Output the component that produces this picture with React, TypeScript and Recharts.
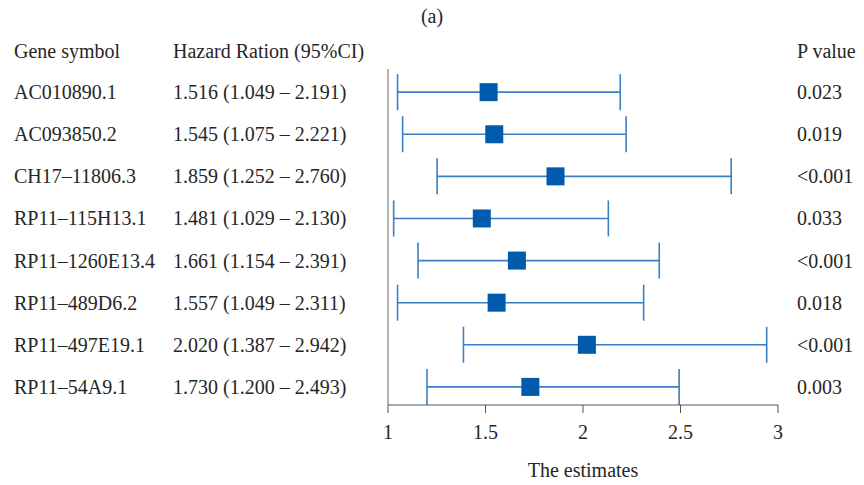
import { ScatterChart, Scatter, XAxis, YAxis, ErrorBar } from 'recharts'

const GENES = [
  'AC010890.1',
  'AC093850.2',
  'CH17–11806.3',
  'RP11–115H13.1',
  'RP11–1260E13.4',
  'RP11–489D6.2',
  'RP11–497E19.1',
  'RP11–54A9.1',
]
const HR = [1.516, 1.545, 1.859, 1.481, 1.661, 1.557, 2.02, 1.73]
const LOWER = [1.049, 1.075, 1.252, 1.029, 1.154, 1.049, 1.387, 1.2]
const UPPER = [2.191, 2.221, 2.76, 2.13, 2.391, 2.311, 2.942, 2.493]
const PVALUES = ['0.023', '0.019', '<0.001', '0.033', '<0.001', '0.018', '<0.001', '0.003']
const X_TICKS = [1, 1.5, 2, 2.5, 3]

const FONT = '"Liberation Serif", "Times New Roman", serif'
const TEXT = '#262626'
const SIZE = 20

const datos = GENES.map((g, i) => ({
  fila: i,
  hr: HR[i],
  err: [HR[i] - LOWER[i], UPPER[i] - HR[i]],
}))

const fmt = (v: number) => v.toFixed(3)

function TickFila(props: any) {
  const i = props.payload.value
  const y = props.y
  if (i < 0 || i >= GENES.length) return null
  return (
    <g fontFamily={FONT} fontSize={SIZE} fill={TEXT}>
      <text x={14} y={y} dy="0.35em">{GENES[i]}</text>
      <text x={173} y={y} dy="0.35em">
        {`${fmt(HR[i])} (${fmt(LOWER[i])} – ${fmt(UPPER[i])})`}
      </text>
      <text x={797} y={y} dy="0.35em">{PVALUES[i]}</text>
    </g>
  )
}

function Cuadro(props: any) {
  const { cx, cy } = props
  return <rect x={cx - 9} y={cy - 9} width={18} height={18} fill="#005bac" />
}

const estiloTexto = {
  position: 'absolute' as const,
  fontFamily: FONT,
  fontSize: SIZE,
  color: TEXT,
  whiteSpace: 'nowrap' as const,
  lineHeight: '20px',
}

export default function App() {
  return (
    <div style={{ position: 'absolute', left: 0, top: 0, width: 864, height: 485, background: '#fff' }}>
      <ScatterChart width={864} height={485} margin={{ top: 69, right: 86, bottom: 0, left: 8 }}>
        <XAxis
          type="number"
          dataKey="hr"
          domain={[1, 3]}
          ticks={X_TICKS}
          allowDataOverflow
          height={80}
          stroke="#555"
          tickSize={8}
          tickMargin={12}
          tick={{ fill: TEXT, fontSize: SIZE, fontFamily: FONT }}
          label={{
            value: 'The estimates',
            position: 'insideBottom',
            offset: 8,
            fill: TEXT,
            fontSize: SIZE,
            fontFamily: FONT,
          }}
        />
        <YAxis
          type="number"
          dataKey="fila"
          domain={[-0.55, 7.43]}
          reversed
          ticks={[0, 1, 2, 3, 4, 5, 6, 7]}
          allowDataOverflow
          width={380}
          stroke="#666"
          tickLine={false}
          tick={<TickFila />}
        />
        <Scatter data={datos} shape={<Cuadro />} isAnimationActive={false}>
          <ErrorBar
            dataKey="err"
            direction="x"
            width={18}
            stroke="#3a7fc1"
            strokeWidth={1.6}
            isAnimationActive={false}
          />
        </Scatter>
      </ScatterChart>
      <div style={{ ...estiloTexto, left: 0, width: 864, top: 6, textAlign: 'center' }}>(a)</div>
      <div style={{ ...estiloTexto, left: 14, top: 41 }}>Gene symbol</div>
      <div style={{ ...estiloTexto, left: 173, top: 41 }}>Hazard Ration (95%CI)</div>
      <div style={{ ...estiloTexto, left: 797, top: 41 }}>P value</div>
    </div>
  )
}
